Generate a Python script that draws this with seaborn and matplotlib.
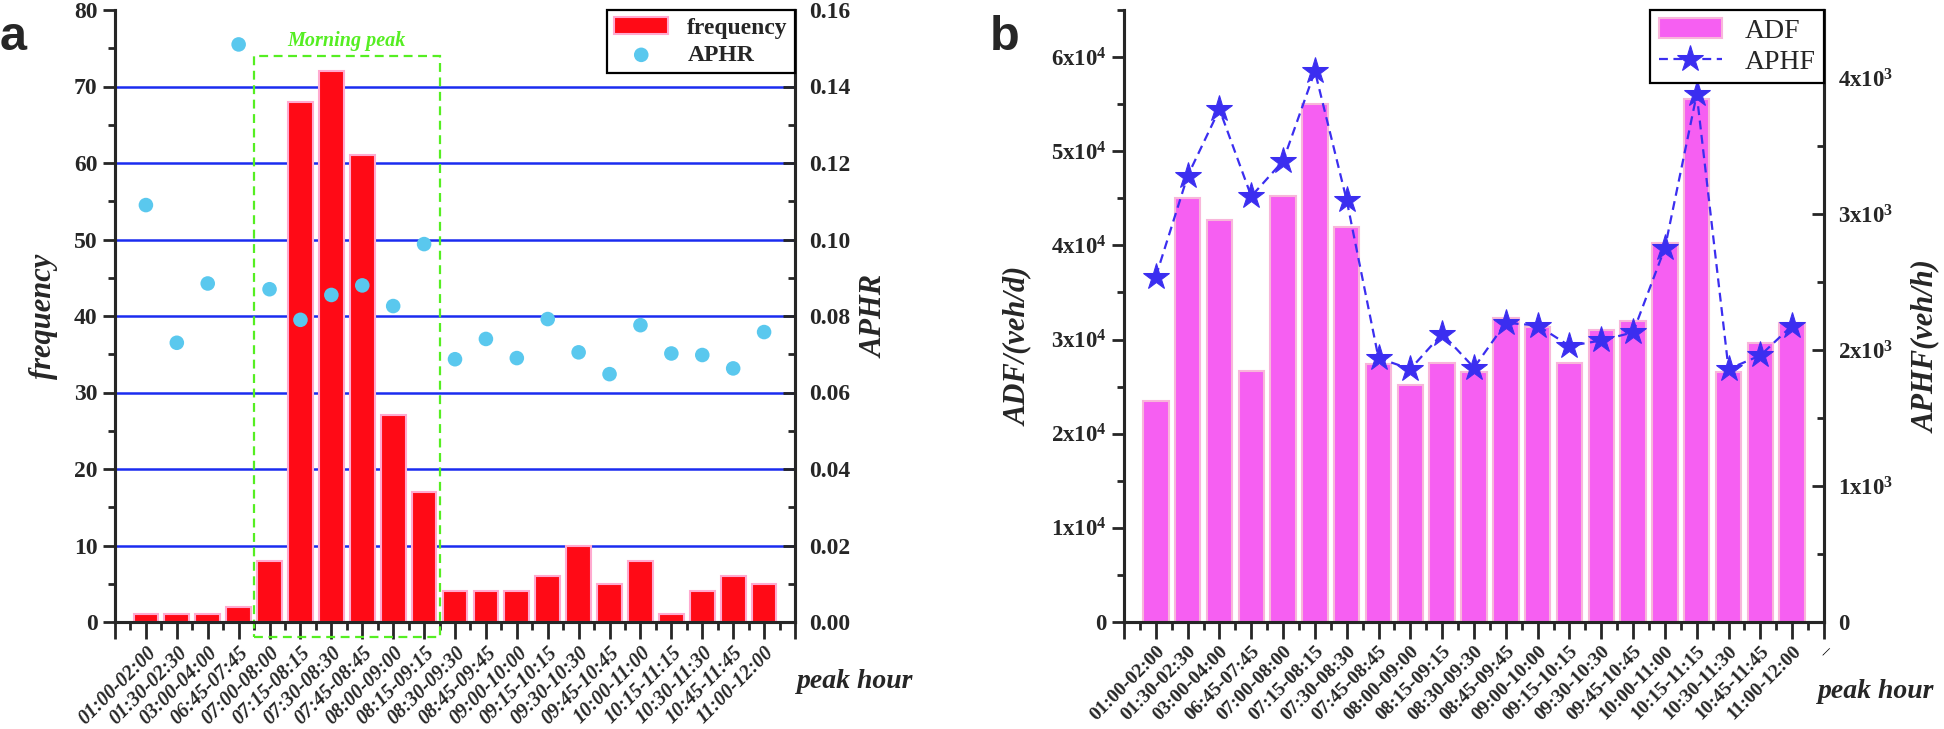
import numpy as np
import pandas as pd
import matplotlib
matplotlib.use('Agg')
import matplotlib.pyplot as plt
import seaborn as sns
from matplotlib.patches import Rectangle
from matplotlib.ticker import MultipleLocator, FixedLocator, FuncFormatter

# data
peak_hours = ['01:00-02:00', '01:30-02:30', '03:00-04:00', '06:45-07:45', '07:00-08:00',
              '07:15-08:15', '07:30-08:30', '07:45-08:45', '08:00-09:00', '08:15-09:15',
              '08:30-09:30', '08:45-09:45', '09:00-10:00', '09:15-10:15', '09:30-10:30',
              '09:45-10:45', '10:00-11:00', '10:15-11:15', '10:30-11:30', '10:45-11:45',
              '11:00-12:00']
frequency = [1, 1, 1, 2, 8, 68, 72, 61, 27, 17, 4, 4, 4, 6, 10, 5, 8, 1, 4, 6, 5]
aphr = [0.109, 0.073, 0.0885, 0.151, 0.087, 0.079, 0.0855, 0.088, 0.0826, 0.0988, 0.0687,
        0.074, 0.069, 0.0792, 0.0705, 0.0648, 0.0776, 0.0702, 0.0698, 0.0663, 0.0758]
adf = [23500, 45000, 42700, 26700, 45200, 55000, 42000, 27400, 25200, 27500, 26600,
       32300, 31300, 27500, 31000, 32000, 40300, 55600, 26500, 29600, 31800]
aphf = [2540, 3280, 3770, 3130, 3390, 4050, 3100, 1940, 1860, 2120, 1870, 2200, 2180,
        2030, 2070, 2130, 2750, 3880, 1860, 1960, 2180]

sns.set_style('ticks')
plt.rcParams['font.family'] = ['Liberation Serif', 'DejaVu Serif']
plt.rcParams['font.weight'] = 'bold'
plt.rcParams['axes.linewidth'] = 2.2

W, H = 1944, 729
fig = plt.figure(figsize=(W / 100, H / 100), dpi=100)

df_a = pd.DataFrame({'peak hour': peak_hours, 'frequency': frequency, 'APHR': aphr})
df_a['pos'] = np.arange(len(df_a))
df_b = pd.DataFrame({'peak hour': peak_hours, 'ADF': adf, 'APHF': aphf})
df_b['pos'] = np.arange(len(df_b))
n = len(peak_hours)


def style_x(ax, labels, italic, size):
    ax.set_xlim(-1, n)
    ax.xaxis.set_major_locator(FixedLocator(np.arange(-1, n + 1)))
    ax.xaxis.set_minor_locator(FixedLocator(np.arange(-0.5, n, 1)))
    ax.set_xticklabels(labels, rotation=45, ha='right', va='top', rotation_mode='anchor',
                       fontsize=size, fontstyle='italic' if italic else 'normal', fontweight='bold')
    ax.tick_params(axis='x', which='major', direction='out', length=12, width=2, pad=3)
    ax.tick_params(axis='x', which='minor', direction='out', length=6, width=2)
    ax.set_xlabel('')


# ---------------- panel a ----------------
ax1 = fig.add_axes([115 / W, 1 - 622 / H, 680 / W, 612 / H])
for lv in range(10, 80, 10):
    ax1.axhline(lv, color='#1a2cf0', lw=1.8, zorder=0.5)
sns.barplot(data=df_a, x='peak hour', y='frequency', color='#ff0a16', edgecolor='#ffaad0',
            linewidth=1.5, width=0.8, saturation=1, label='frequency', ax=ax1)
ax1.set_ylim(0, 80)
ax1.yaxis.set_major_locator(MultipleLocator(10))
ax1.yaxis.set_minor_locator(MultipleLocator(5))
ax1.tick_params(axis='y', which='major', direction='out', length=9, width=2, labelsize=17)
ax1.tick_params(axis='y', which='minor', direction='out', length=5, width=2)
style_x(ax1, [''] + peak_hours + [''], True, 14.5)
ax1.set_ylabel('frequency', fontsize=22, fontstyle='italic', fontweight='bold')
ax1.yaxis.set_label_coords(-0.084, 0.5)

ax1.add_patch(Rectangle((3.5, -2), 6, 76, fill=False, ls=(0, (4, 2.5)), lw=1.6,
                        edgecolor='#55ee22', clip_on=False, zorder=5))
ax1.text(6.5, 76, 'Morning peak', color='#55ee22', fontsize=14.5, fontstyle='italic',
         fontweight='bold', ha='center', va='center')

ax2 = ax1.twinx()
sns.scatterplot(data=df_a, x='pos', y='APHR', color='#5ac8ee', s=110, edgecolor='none',
                label='APHR', ax=ax2, zorder=4)
ax2.set_ylim(0, 0.16)
ax2.set_xlim(-1, n)
ax2.yaxis.set_major_locator(MultipleLocator(0.02))
ax2.yaxis.set_minor_locator(MultipleLocator(0.01))
ax2.yaxis.set_major_formatter(FuncFormatter(lambda v, p: f'{v:.2f}'))
ax2.tick_params(axis='y', which='major', direction='in', length=9, width=2, labelsize=17, pad=10)
ax2.tick_params(axis='y', which='minor', direction='in', length=5, width=2)
ax2.set_ylabel('APHR', fontsize=22, fontstyle='italic', fontweight='bold')
ax2.yaxis.set_label_coords(1.096, 0.5)

for a in (ax1, ax2):
    a.spines['top'].set_visible(False)
    if a.get_legend() is not None:
        a.get_legend().remove()
h1, l1 = ax1.get_legend_handles_labels()
h2, l2 = ax2.get_legend_handles_labels()
leg = ax2.legend(h1 + h2, l1 + l2, loc='upper right', bbox_to_anchor=(1, 1), borderaxespad=0,
                 fancybox=False, edgecolor='black', framealpha=1, handlelength=2.3,
                 borderpad=0.3, labelspacing=0.25, markerscale=1.0,
                 prop=dict(family='Liberation Serif', weight='bold', size=17))
leg.get_frame().set_linewidth(1.6)

# ---------------- panel b ----------------
ax3 = fig.add_axes([1124 / W, 1 - 622 / H, 700 / W, 612 / H])
sns.barplot(data=df_b, x='peak hour', y='ADF', color='#f65ff2', edgecolor='#f8b6da',
            linewidth=1.5, width=0.8, saturation=1, label='ADF', ax=ax3)
ax3.set_ylim(0, 65000)
ax3.yaxis.set_major_locator(MultipleLocator(10000))
ax3.yaxis.set_minor_locator(MultipleLocator(5000))
ax3.yaxis.set_major_formatter(FuncFormatter(
    lambda v, p: '0' if v == 0 else r'$\mathregular{%dx10^{4}}$' % round(v / 1e4)))
ax3.tick_params(axis='y', which='major', direction='out', length=9, width=2, labelsize=16.5)
ax3.tick_params(axis='y', which='minor', direction='out', length=5, width=2)
style_x(ax3, [''] + peak_hours + ['\u2013'], False, 14)
ax3.set_ylabel('ADF/(veh/d)', fontsize=22, fontstyle='italic', fontweight='bold')
ax3.yaxis.set_label_coords(-0.13, 0.45)

ax4 = ax3.twinx()
sns.lineplot(data=df_b, x='pos', y='APHF', color='#3b2ef0', linestyle=(0, (4, 2.5)),
             linewidth=1.6, marker='*', markersize=20, markeredgecolor='#3b2ef0',
             label='APHF', ax=ax4, sort=False)
ax4.set_ylim(0, 4500)
ax4.set_xlim(-1, n)
ax4.yaxis.set_major_locator(MultipleLocator(1000))
ax4.yaxis.set_minor_locator(MultipleLocator(500))
ax4.yaxis.set_major_formatter(FuncFormatter(
    lambda v, p: '0' if v == 0 else r'$\mathregular{%dx10^{3}}$' % round(v / 1e3)))
ax4.tick_params(axis='y', which='major', direction='in', length=9, width=2, labelsize=16.5, pad=10)
ax4.tick_params(axis='y', which='minor', direction='in', length=5, width=2)
ax4.set_ylabel('APHF(veh/h)', fontsize=22, fontstyle='italic', fontweight='bold')
ax4.yaxis.set_label_coords(1.126, 0.45)

for a in (ax3, ax4):
    a.spines['top'].set_visible(False)
    if a.get_legend() is not None:
        a.get_legend().remove()
h3, l3 = ax3.get_legend_handles_labels()
h4, l4 = ax4.get_legend_handles_labels()
leg2 = ax4.legend(h3 + h4, l3 + l4, loc='upper right', bbox_to_anchor=(1, 1), borderaxespad=0,
                  fancybox=False, edgecolor='black', framealpha=1, handlelength=2.3,
                  borderpad=0.3, labelspacing=0.2,
                  prop=dict(family='Liberation Serif', weight='normal', size=20))
leg2.get_frame().set_linewidth(1.6)

# panel letters and x titles
fig.text(0 / W, 1 - 50 / H, 'a', family='Liberation Sans', weight='bold', size=35, va='baseline')
fig.text(990 / W, 1 - 50 / H, 'b', family='Liberation Sans', weight='bold', size=35, va='baseline')
fig.text(797 / W, 1 - 682 / H, 'peak hour', fontsize=20, fontstyle='italic', fontweight='bold',
         ha='left', va='center')
fig.text(1818 / W, 1 - 692 / H, 'peak hour', fontsize=20, fontstyle='italic', fontweight='bold',
         ha='left', va='center')

fig.savefig('out.png', dpi=100)
